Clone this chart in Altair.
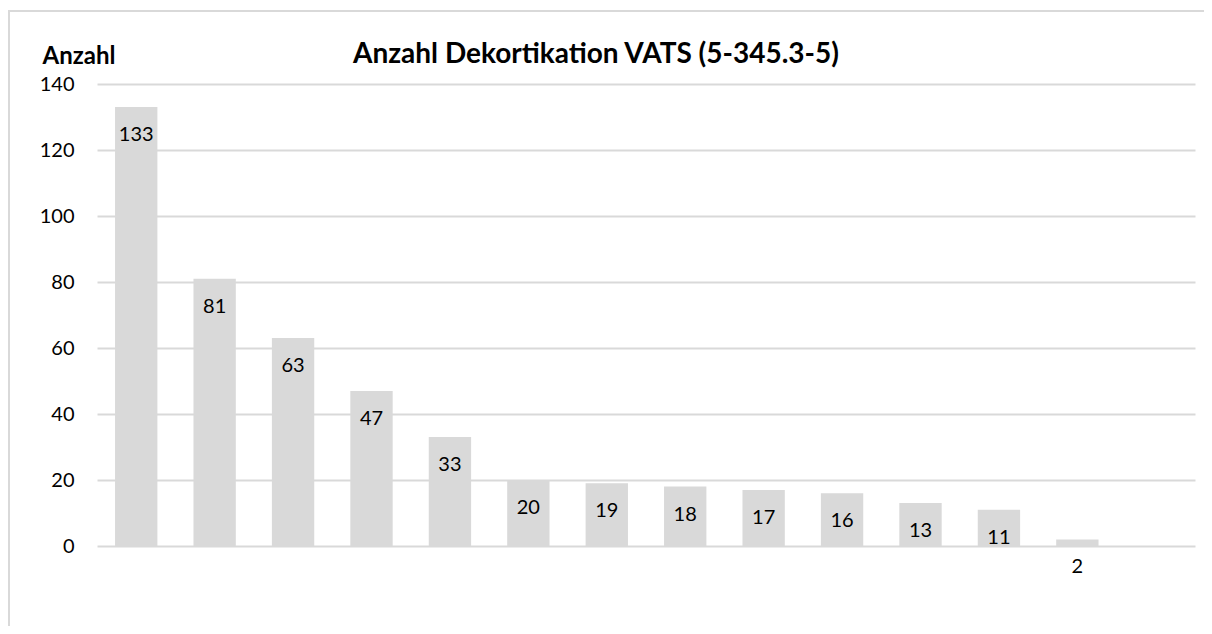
import altair as alt
import pandas as pd

categories = [str(i) for i in range(1, 15)]
values = [133, 81, 63, 47, 33, 20, 19, 18, 17, 16, 13, 11, 2]
labels = [str(v) for v in values]
title_text = "Anzahl Dekortikation VATS (5-345.3-5)"

df = pd.DataFrame({
    "Kategorie": categories[:len(values)],
    "Anzahl": values,
    "Label": labels,
})

FONT = "Lato"
GREY = "#d9d9d9"

x_enc = alt.X(
    "Kategorie:N",
    sort=categories,
    scale=alt.Scale(domain=categories, paddingInner=0.46, paddingOuter=0.23),
    axis=None,
)

bars = alt.Chart(df).mark_bar(color=GREY).encode(
    x=x_enc,
    y=alt.Y(
        "Anzahl:Q",
        scale=alt.Scale(domain=[0, 140], nice=False),
        axis=alt.Axis(
            values=[0, 20, 40, 60, 80, 100, 120, 140],
            title="Anzahl",
            titleAngle=0,
            titleAlign="left",
            titleBaseline="alphabetic",
            titleX=-55,
            titleY=-21,
            titleFont=FONT,
            titleFontSize=24,
            titleFontWeight="bold",
            titleColor="#000000",
            labelFont=FONT,
            labelFontSize=20,
            labelColor="#000000",
            labelPadding=23,
            ticks=False,
            domain=False,
            grid=True,
            gridColor=GREY,
            gridWidth=2,
        ),
    ),
)

text = alt.Chart(df).mark_text(
    font=FONT, fontSize=20, color="#000000", baseline="middle", dy=28
).encode(
    x=x_enc,
    y=alt.Y("Anzahl:Q"),
    text="Label:N",
)

frame = alt.Chart(alt.Data(values=[{}])).mark_rect(
    filled=False, stroke=GREY, strokeWidth=2
).encode(
    x=alt.value(-88),
    x2=alt.value(1150),
    y=alt.value(-73),
    y2=alt.value(620),
)

title = alt.Chart(alt.Data(values=[{"t": title_text}])).mark_text(
    font=FONT, fontSize=28, fontWeight="bold", color="#000000",
    align="center", baseline="alphabetic"
).encode(
    x=alt.value(499),
    y=alt.value(-21),
    text="t:N",
)

chart = alt.layer(frame, bars, text, title).properties(
    width=1098,
    height=462,
    padding={"left": 89, "top": 76, "right": 9, "bottom": 80},
    autosize=alt.AutoSizeParams(type="none"),
).configure_view(stroke=None)

chart.save("out.html", embed_options={"renderer": "svg", "actions": False})
